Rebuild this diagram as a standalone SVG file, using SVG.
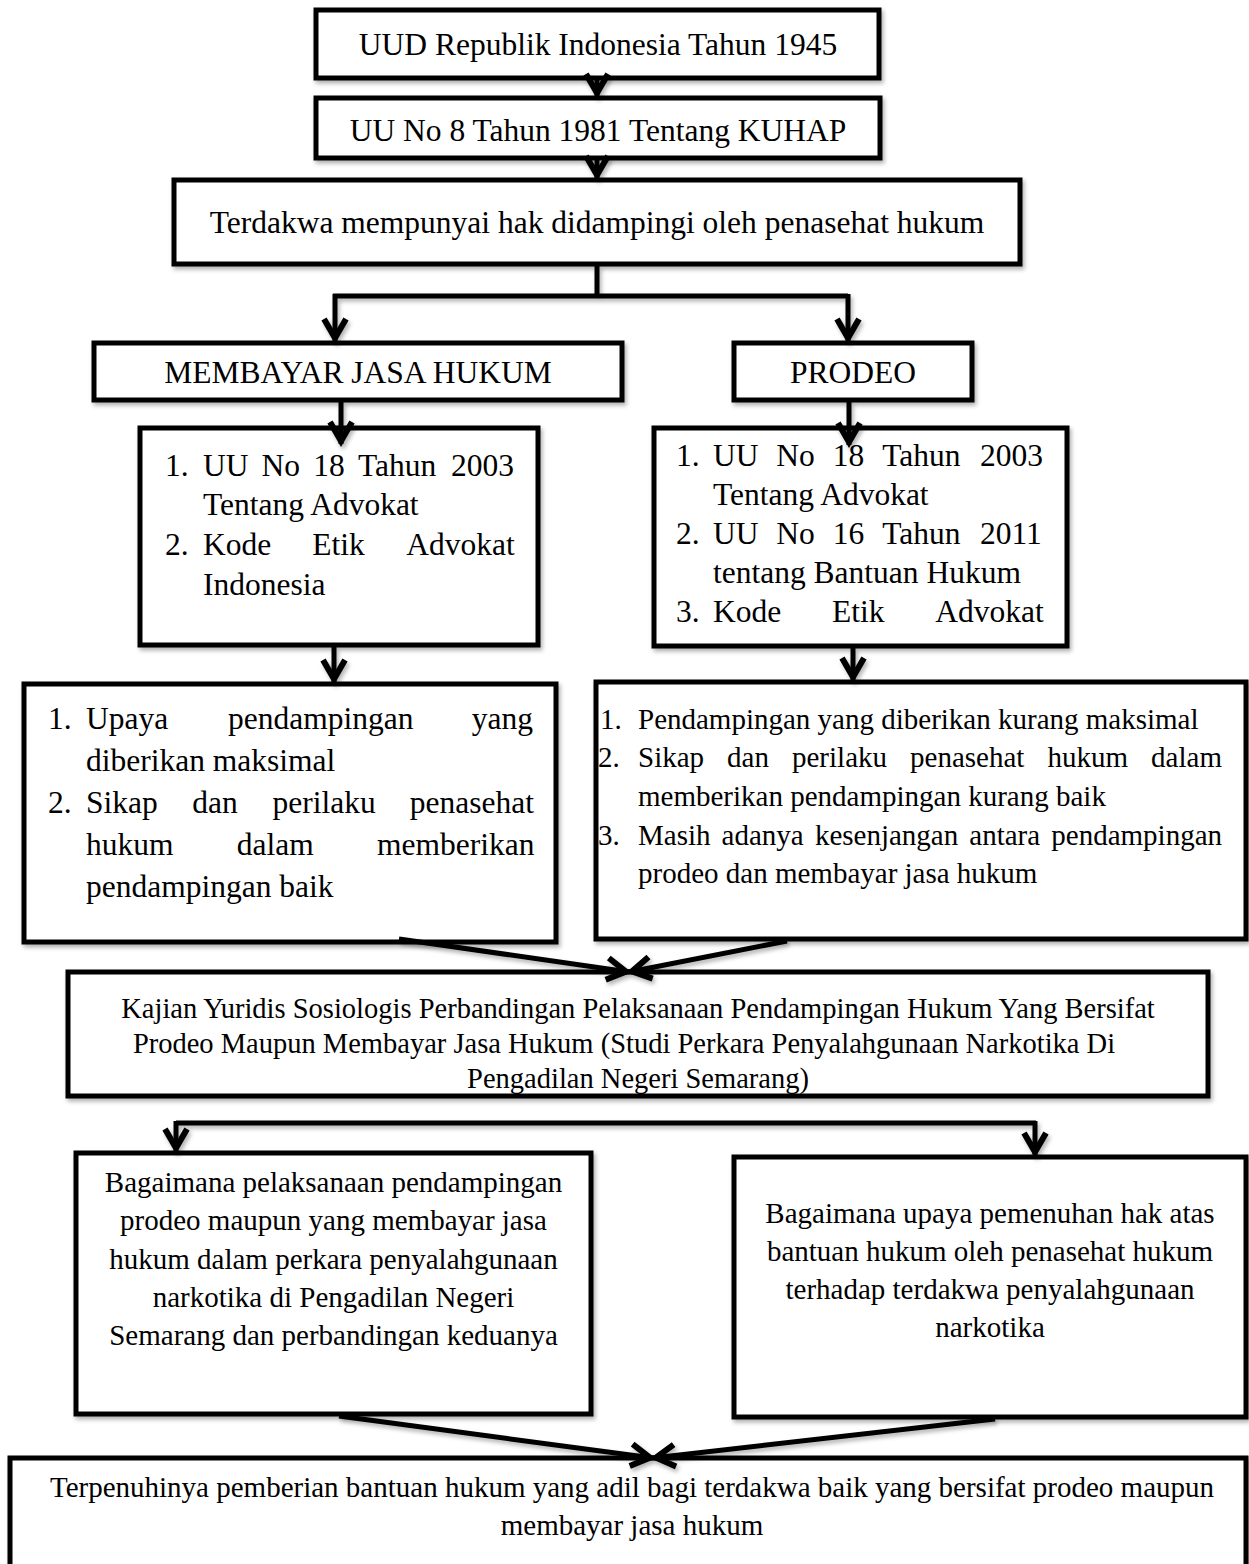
<svg xmlns="http://www.w3.org/2000/svg" width="1249" height="1564" viewBox="0 0 1249 1564">
<style>
  text { font-family: "Liberation Serif", "Times New Roman", serif; fill: #000; }
  .box { fill: #fff; stroke: #000; stroke-width: 5; filter: url(#sh); }
  .c { text-anchor: middle; }
  .f31 { font-size: 31.5px; }
  .f29 { font-size: 29px; }
  .f28 { font-size: 28.5px; }
  .conn { fill: none; stroke: #000; stroke-width: 5; marker-end: url(#ah); }
  .lnk { fill: none; stroke: #000; stroke-width: 5; }
</style>
<defs>
  <filter id="sh" x="-10%" y="-10%" width="120%" height="130%">
    <feDropShadow dx="2" dy="3" stdDeviation="2" flood-color="#000" flood-opacity="0.3"/>
  </filter>
  <filter id="shc" filterUnits="userSpaceOnUse" x="0" y="0" width="1249" height="1564">
    <feDropShadow dx="2" dy="3" stdDeviation="2" flood-color="#000" flood-opacity="0.3"/>
  </filter>
  <marker id="ah" markerUnits="userSpaceOnUse" markerWidth="40" markerHeight="40" viewBox="-24 -20 40 40" refX="3" refY="0" orient="auto" overflow="visible">
    <path d="M-19,-11 L0,0 L-19,11" fill="none" stroke="#000" stroke-width="6" stroke-linejoin="miter"/>
  </marker>
</defs>
<rect width="1249" height="1564" fill="#fff"/>

<g id="n1">
  <rect class="box" x="316" y="10" width="563" height="68"/>
  <text class="f31 c" x="598" y="55">UUD Republik Indonesia Tahun 1945</text>
</g>
<g id="n2">
  <rect class="box" x="316" y="98" width="564" height="60"/>
  <text class="f31 c" x="598" y="141">UU No 8 Tahun 1981 Tentang KUHAP</text>
</g>
<g id="n3">
  <rect class="box" x="174" y="180" width="846" height="84"/>
  <text class="f31 c" x="597" y="233">Terdakwa mempunyai hak didampingi oleh penasehat hukum</text>
</g>
<g id="n4">
  <rect class="box" x="94" y="343" width="528" height="57"/>
  <text class="f31 c" x="358" y="383">MEMBAYAR JASA HUKUM</text>
</g>
<g id="n5">
  <rect class="box" x="734" y="343" width="238" height="57"/>
  <text class="f31 c" x="853" y="383">PRODEO</text>
</g>

<g id="n6">
  <rect class="box" x="140" y="428" width="398" height="217"/>
  <text class="f31" y="476"><tspan x="165">1.</tspan><tspan x="203">UU</tspan><tspan x="261.5">No</tspan><tspan x="313.2">18</tspan><tspan x="358">Tahun</tspan><tspan x="451">2003</tspan></text>
  <text class="f31" x="203" y="515">Tentang Advokat</text>
  <text class="f31" y="555"><tspan x="165">2.</tspan><tspan x="203">Kode</tspan><tspan x="312.3">Etik</tspan><tspan x="406.2">Advokat</tspan></text>
  <text class="f31" x="203" y="595">Indonesia</text>
</g>

<g id="n7">
  <rect class="box" x="654" y="428" width="413" height="218"/>
  <text class="f31" y="466"><tspan x="676">1.</tspan><tspan x="713">UU</tspan><tspan x="776.3">No</tspan><tspan x="832.7">18</tspan><tspan x="882.3">Tahun</tspan><tspan x="980">2003</tspan></text>
  <text class="f31" x="713" y="505">Tentang Advokat</text>
  <text class="f31" y="544"><tspan x="676">2.</tspan><tspan x="713">UU</tspan><tspan x="776.3">No</tspan><tspan x="832.7">16</tspan><tspan x="882.3">Tahun</tspan><tspan x="980">2011</tspan></text>
  <text class="f31" x="713" y="583">tentang Bantuan Hukum</text>
  <text class="f31" y="622"><tspan x="676">3.</tspan><tspan x="713">Kode</tspan><tspan x="831.9">Etik</tspan><tspan x="935.2">Advokat</tspan></text>
</g>

<g id="n8">
  <rect class="box" x="24" y="684" width="532" height="258"/>
  <text class="f31" y="729"><tspan x="48">1.</tspan><tspan x="86">Upaya</tspan><tspan x="228.1">pendampingan</tspan><tspan x="471.7">yang</tspan></text>
  <text class="f31" x="86" y="771">diberikan maksimal</text>
  <text class="f31" y="813"><tspan x="48">2.</tspan><tspan x="86">Sikap</tspan><tspan x="192.2">dan</tspan><tspan x="272.6">perilaku</tspan><tspan x="409.8">penasehat</tspan></text>
  <text class="f31" y="855"><tspan x="86">hukum</tspan><tspan x="236.7">dalam</tspan><tspan x="377">memberikan</tspan></text>
  <text class="f31" x="86" y="897">pendampingan baik</text>
</g>

<g id="n9">
  <rect class="box" x="596" y="682" width="650" height="257"/>
  <text class="f29" y="729"><tspan x="600">1.</tspan><tspan x="638">Pendampingan yang diberikan kurang maksimal</tspan></text>
  <text class="f29" y="767"><tspan x="598">2.</tspan><tspan x="638">Sikap</tspan><tspan x="727.1">dan</tspan><tspan x="792">perilaku</tspan><tspan x="910.1">penasehat</tspan><tspan x="1047.5">hukum</tspan><tspan x="1151.1">dalam</tspan></text>
  <text class="f29" x="638" y="806">memberikan pendampingan kurang baik</text>
  <text class="f29" y="845"><tspan x="598">3.</tspan><tspan x="638">Masih</tspan><tspan x="721.6">adanya</tspan><tspan x="814.9">kesenjangan</tspan><tspan x="969.3">antara</tspan><tspan x="1051.3">pendampingan</tspan></text>
  <text class="f29" x="638" y="883">prodeo dan membayar jasa hukum</text>
</g>

<g id="n10">
  <rect class="box" x="68" y="972" width="1140" height="124"/>
  <text class="f28 c" x="638" y="1018">Kajian Yuridis Sosiologis Perbandingan Pelaksanaan Pendampingan Hukum Yang Bersifat</text>
  <text class="f28 c" x="624" y="1053">Prodeo Maupun Membayar Jasa Hukum (Studi Perkara Penyalahgunaan Narkotika Di</text>
  <text class="f28 c" x="638" y="1088">Pengadilan Negeri Semarang)</text>
</g>

<g id="n11">
  <rect class="box" x="76" y="1153" width="515" height="261"/>
  <text class="f29 c" x="333.5" y="1192">Bagaimana pelaksanaan pendampingan</text>
  <text class="f29 c" x="333.5" y="1230">prodeo maupun yang membayar jasa</text>
  <text class="f29 c" x="333.5" y="1269">hukum dalam perkara penyalahgunaan</text>
  <text class="f29 c" x="333.5" y="1307">narkotika di Pengadilan Negeri</text>
  <text class="f29 c" x="333.5" y="1345">Semarang dan perbandingan keduanya</text>
</g>

<g id="n12">
  <rect class="box" x="734" y="1157" width="512" height="260"/>
  <text class="f29 c" x="990" y="1223">Bagaimana upaya pemenuhan hak atas</text>
  <text class="f29 c" x="990" y="1261">bantuan hukum oleh penasehat hukum</text>
  <text class="f29 c" x="990" y="1299">terhadap terdakwa penyalahgunaan</text>
  <text class="f29 c" x="990" y="1337">narkotika</text>
</g>

<g id="n13">
  <rect class="box" x="10" y="1458" width="1236" height="120"/>
  <text class="f29 c" x="632" y="1497">Terpenuhinya pemberian bantuan hukum yang adil bagi terdakwa baik yang bersifat prodeo maupun</text>
  <text class="f29 c" x="632" y="1535">membayar jasa hukum</text>
</g>

<g id="connectors" filter="url(#shc)">
  <path class="conn" d="M597,80 L597,96"/>
  <path class="conn" d="M597,160 L597,178"/>
  <path class="lnk" d="M597,266 L597,296"/>
  <path class="lnk" d="M333,296 L848,296"/>
  <path class="conn" d="M335,294 L335,341"/>
  <path class="conn" d="M848,294 L848,341"/>
  <path class="conn" d="M341,402 L341,444"/>
  <path class="conn" d="M849,402 L849,445"/>
  <path class="conn" d="M334,647 L334,682"/>
  <path class="conn" d="M853,648 L853,680"/>
  <path class="conn" d="M399,939 L629,972"/>
  <path class="conn" d="M787,941 L629,972"/>
  <path class="lnk" d="M176,1123 L1036,1123"/>
  <path class="conn" d="M176,1121 L176,1151"/>
  <path class="conn" d="M1035,1121 L1035,1155"/>
  <path class="conn" d="M339,1416 L653,1458"/>
  <path class="conn" d="M995,1419 L653,1458"/>
</g>
</svg>
